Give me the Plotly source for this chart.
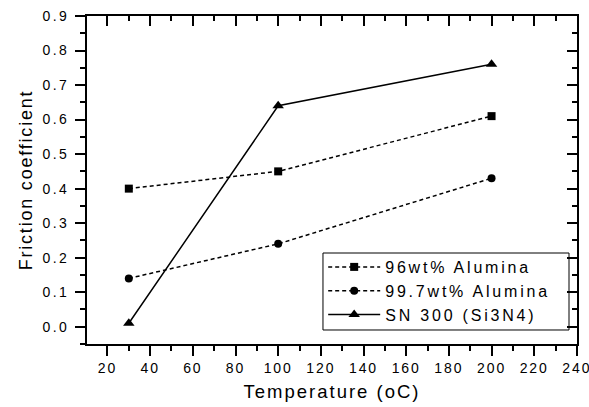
import plotly.graph_objects as go

temps = [30, 100, 200]
alumina96 = [0.40, 0.45, 0.61]
alumina997 = [0.14, 0.24, 0.43]
sn300 = [0.01, 0.64, 0.76]
names = ["96wt% Alumina", "99.7wt% Alumina", "SN 300 (Si3N4)"]

fig = go.Figure()
fig.add_trace(go.Scatter(x=temps, y=alumina96, name=names[0], mode="lines+markers",
                         line=dict(color="black", width=1.5, dash="4px,3px"),
                         marker=dict(symbol="square", size=8, color="black")))
fig.add_trace(go.Scatter(x=temps, y=alumina997, name=names[1], mode="lines+markers",
                         line=dict(color="black", width=1.5, dash="4px,3px"),
                         marker=dict(symbol="circle", size=8, color="black")))
fig.add_trace(go.Scatter(x=temps, y=sn300, name=names[2], mode="lines+markers",
                         line=dict(color="black", width=1.5),
                         marker=dict(symbol="triangle-up", size=10, color="black")))

font = "Liberation Sans"
xr = [10.4, 240.05]
yr = [-0.05, 0.9]
common = dict(showline=True, linecolor="black", linewidth=2, showgrid=False, zeroline=False,
              ticklen=10, tickwidth=1.8, tickcolor="black", automargin=False)
fig.update_layout(
    width=589, height=407, plot_bgcolor="white", paper_bgcolor="white",
    margin=dict(l=87, r=12, t=16, b=63),
    font=dict(family=font, color="black"),
    showlegend=True,
    legend=dict(x=0.482, y=0.2866, xanchor="left", yanchor="top", borderwidth=0,
                bgcolor="rgba(0,0,0,0)", font=dict(size=16, family=font),
                tracegroupgap=0, itemwidth=52),
    xaxis=dict(range=xr, dtick=20, tick0=0, ticks="outside", ticklabelstandoff=0,
               title=dict(text="Temperature (oC)", font=dict(size=18.5), standoff=10),
               tickfont=dict(size=14), minor=dict(dtick=10, tick0=0, ticklen=5, tickwidth=1.8, tickcolor="black", ticks="outside"),
               **common),
    yaxis=dict(range=yr, dtick=0.1, tick0=0, ticks="outside", tickformat=".1f", ticklabelstandoff=3,
               title=dict(text="Friction coefficient", font=dict(size=18), standoff=12),
               tickfont=dict(size=14), minor=dict(dtick=0.05, tick0=0, ticklen=5, tickwidth=1.8, tickcolor="black", ticks="outside"),
               **common),
    xaxis2=dict(range=xr, dtick=20, tick0=0, ticks="inside", overlaying="x", side="top", showticklabels=False,
                minor=dict(dtick=10, tick0=0, ticklen=5, tickwidth=1.8, tickcolor="black", ticks="inside"),
                **common),
    yaxis2=dict(range=yr, dtick=0.1, tick0=0, ticks="inside", overlaying="y", side="right", showticklabels=False,
                minor=dict(dtick=0.05, tick0=0, ticklen=5, tickwidth=1.8, tickcolor="black", ticks="inside"),
                **common),
    shapes=[dict(type="rect", xref="paper", yref="paper", x0=0.4816, x1=0.9837, y0=0.0427, y1=0.2774,
                 line=dict(color="black", width=1), fillcolor="white", layer="below")],
)
fig.add_trace(go.Scatter(x=[None], y=[None], xaxis="x2", yaxis="y2", showlegend=False, hoverinfo="skip"))

post = """
document.body.style.margin='0';document.body.style.overflow='hidden';
function sp(sel, v){document.querySelectorAll(sel).forEach(function(t){t.style.letterSpacing=v;});}
sp('.xtick text','1.9px'); sp('.ytick text','2.4px');
sp('.legendtext','2.8px');
sp('.g-xtitle text','2px'); sp('.g-ytitle text','1.8px');
document.querySelectorAll('.legend, .legend [clip-path]').forEach(function(e){e.removeAttribute('clip-path');});
"""
fig.write_html("out.html", post_script=post, config={"displayModeBar": False})
